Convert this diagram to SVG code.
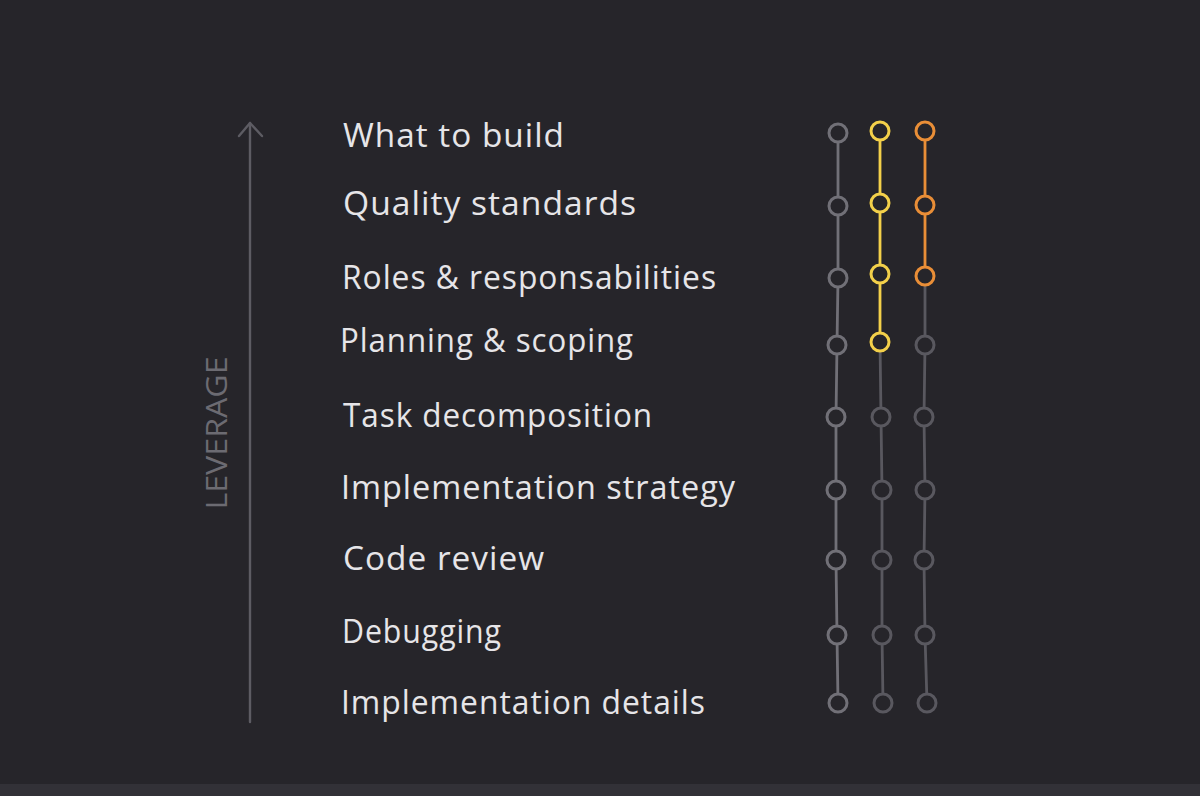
<svg xmlns="http://www.w3.org/2000/svg" width="1200" height="796" viewBox="0 0 1200 796">
<defs>
<style>
.bg{fill:#26252a}
.strip{fill:#323137}
.lbl{font-family:"Open Sans","Liberation Sans",sans-serif;font-size:33px;fill:#e6e5e8;letter-spacing:1px}
.lev{font-family:"Open Sans","Liberation Sans",sans-serif;font-size:29px;fill:#6c6b72}
.ln{fill:none;stroke-width:2.8;stroke-linecap:round;stroke-linejoin:round}
.g1{stroke:#717077}
.g2{stroke:#59585f}
.y{stroke:#f3d04a}
.o{stroke:#e98e37}
.n{fill:#26252a;stroke-width:3}
.axis{fill:none;stroke:#5d5c63;stroke-width:2.4;stroke-linecap:round;stroke-linejoin:round}
</style>
</defs>
<rect class="bg" x="0" y="0" width="1200" height="796"/>
<rect class="strip" x="0" y="784" width="1200" height="12"/>

<g id="axis">
<line class="axis" x1="250" y1="722" x2="250" y2="123"/>
<polyline class="axis" points="239,136 250,123 262,136"/>
<text class="lev" transform="translate(227,433) rotate(-90)" text-anchor="middle" textLength="153" lengthAdjust="spacingAndGlyphs">LEVERAGE</text>
</g>

<g id="labels">
<text id="t1" class="lbl" x="343" y="147" textLength="222" lengthAdjust="spacingAndGlyphs">What to build</text>
<text id="t2" class="lbl" x="343" y="215" textLength="294" lengthAdjust="spacingAndGlyphs">Quality standards</text>
<text id="t3" class="lbl" x="342" y="289" textLength="375" lengthAdjust="spacingAndGlyphs">Roles &amp; responsabilities</text>
<text id="t4" class="lbl" x="340" y="352" textLength="294" lengthAdjust="spacingAndGlyphs">Planning &amp; scoping</text>
<text id="t5" class="lbl" x="343" y="427" textLength="310" lengthAdjust="spacingAndGlyphs">Task decomposition</text>
<text id="t6" class="lbl" x="341" y="499" textLength="395" lengthAdjust="spacingAndGlyphs">Implementation strategy</text>
<text id="t7" class="lbl" x="343" y="570" textLength="202" lengthAdjust="spacingAndGlyphs">Code review</text>
<text id="t8" class="lbl" x="342" y="643" textLength="160" lengthAdjust="spacingAndGlyphs">Debugging</text>
<text id="t9" class="lbl" x="341" y="714" textLength="365" lengthAdjust="spacingAndGlyphs">Implementation details</text>
</g>

<g id="connectors">
<polyline class="ln g1" points="838,133 838,206 838,278 837,345 836,417 836,490 836,560 837,635 838,703"/>
<polyline class="ln g2" points="880,342 881,417 882,490 882,560 882,635 883,703"/>
<polyline class="ln g2" points="925,276 925,345 924,417 925,490 924,560 925,635 927,703"/>
<polyline class="ln y" points="880,131 880,203 880,274 880,342"/>
<polyline class="ln o" points="925,131 925,205 925,276"/>
</g>

<g id="col1">
<circle class="n g1" cx="838" cy="133" r="9"/>
<circle class="n g1" cx="838" cy="206" r="9"/>
<circle class="n g1" cx="838" cy="278" r="9"/>
<circle class="n g1" cx="837" cy="345" r="9"/>
<circle class="n g1" cx="836" cy="417" r="9"/>
<circle class="n g1" cx="836" cy="490" r="9"/>
<circle class="n g1" cx="836" cy="560" r="9"/>
<circle class="n g1" cx="837" cy="635" r="9"/>
<circle class="n g1" cx="838" cy="703" r="9"/>
</g>
<g id="col2">
<circle class="n y" cx="880" cy="131" r="9"/>
<circle class="n y" cx="880" cy="203" r="9"/>
<circle class="n y" cx="880" cy="274" r="9"/>
<circle class="n y" cx="880" cy="342" r="9"/>
<circle class="n g2" cx="881" cy="417" r="9"/>
<circle class="n g2" cx="882" cy="490" r="9"/>
<circle class="n g2" cx="882" cy="560" r="9"/>
<circle class="n g2" cx="882" cy="635" r="9"/>
<circle class="n g2" cx="883" cy="703" r="9"/>
</g>
<g id="col3">
<circle class="n o" cx="925" cy="131" r="9"/>
<circle class="n o" cx="925" cy="205" r="9"/>
<circle class="n o" cx="925" cy="276" r="9"/>
<circle class="n g2" cx="925" cy="345" r="9"/>
<circle class="n g2" cx="924" cy="417" r="9"/>
<circle class="n g2" cx="925" cy="490" r="9"/>
<circle class="n g2" cx="924" cy="560" r="9"/>
<circle class="n g2" cx="925" cy="635" r="9"/>
<circle class="n g2" cx="927" cy="703" r="9"/>
</g>
</svg>
